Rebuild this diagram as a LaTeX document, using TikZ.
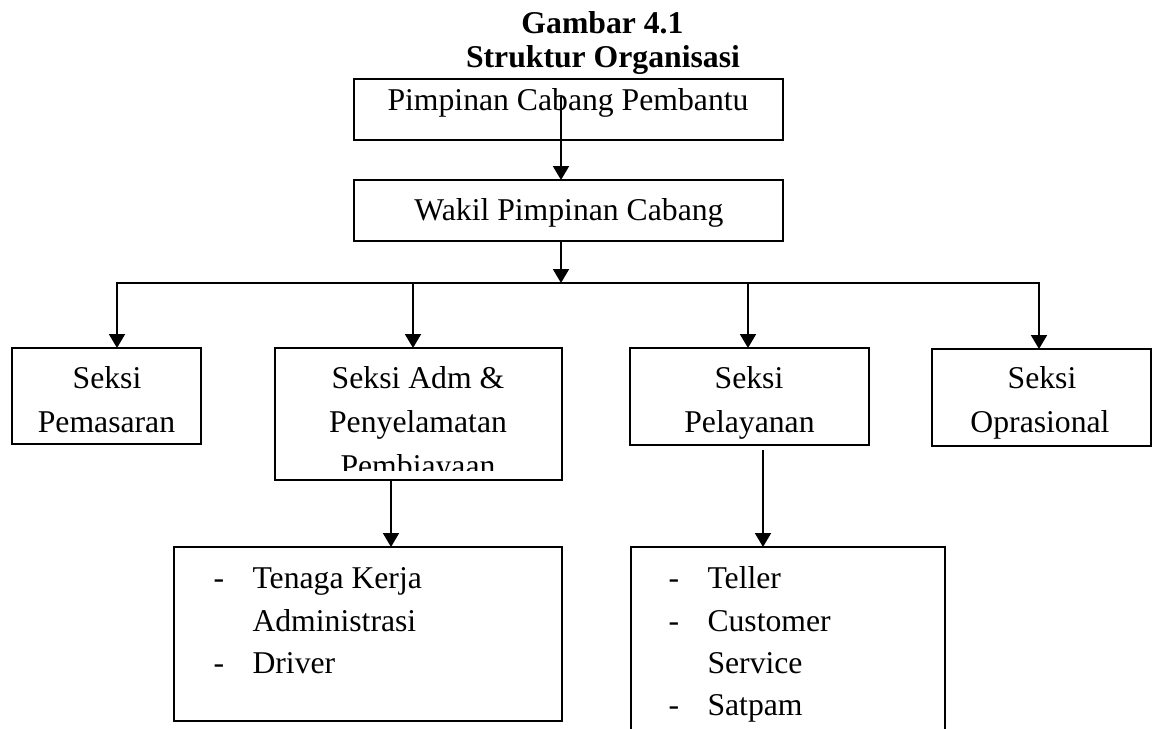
\documentclass[tikz,border=0pt]{standalone}
\usepackage{fontspec}
\setmainfont{Liberation Serif}
\usetikzlibrary{arrows.meta}
\begin{document}
\begin{tikzpicture}[x=0.5pt,y=-0.5pt,
  box/.style={draw,line width=1pt,inner sep=0pt,outer sep=0pt,anchor=north west},
  txt/.style={inner sep=0pt,outer sep=0pt,font=\fontsize{15.85pt}{21pt}\selectfont},
  ttl/.style={inner sep=0pt,outer sep=0pt,anchor=base,font=\fontsize{15.85pt}{21pt}\selectfont\bfseries},
  ctr/.style={txt,anchor=base},
  lft/.style={txt,anchor=base west},
  conn/.style={line width=1pt},
  arr/.style={conn,-{Triangle[width=8pt,length=7pt]}}]
\useasboundingbox (0,0) rectangle (1153,729);
\clip (0,0) rectangle (1153,729);

% title
\node[ttl] (t1) at (602.5,33) {Gambar 4.1};
\node[ttl] (t2) at (603,67) {Struktur Organisasi};

% boxes
\node[box,minimum width=214.5pt,minimum height=30.5pt] (b1) at (354,79) {};
\node[box,minimum width=214.5pt,minimum height=30.5pt] (b2) at (354,180) {};
\node[box,minimum width=94.5pt,minimum height=48pt] (pem) at (12,348) {};
\node[box,minimum width=143.5pt,minimum height=66pt] (adm) at (275,348) {};
\node[box,minimum width=119.5pt,minimum height=48.5pt] (pel) at (630,348) {};
\node[box,minimum width=109.5pt,minimum height=48.5pt] (opr) at (932,349) {};
\node[box,minimum width=194pt,minimum height=87pt] (la) at (174,547) {};
\node[box,minimum width=157pt,minimum height=100pt] (lb) at (631,547) {};

% box texts
\node[ctr] (b1t) at (568,110) {Pimpinan Cabang Pembantu};
\node[ctr] (b2t) at (569,220) {Wakil Pimpinan Cabang};
\node[ctr] (pem1) at (107,388) {Seksi};
\node[ctr] (pem2) at (106.5,432) {Pemasaran};
\node[ctr] (adm1) at (418,388) {Seksi Adm \&};
\node[ctr] (adm2) at (418,432) {Penyelamatan};
\begin{scope}
\clip (275,348) rectangle (562,470);
\node[ctr] (adm3) at (418,476) {Pembiayaan};
\end{scope}
\node[ctr] (pel1) at (749,388) {Seksi};
\node[ctr] (pel2) at (749.5,432) {Pelayanan};
\node[ctr] (opr1) at (1042,388) {Seksi};
\node[ctr] (opr2) at (1040,432) {Oprasional};

% lower lists
\node[lft] (la1d) at (213.5,588) {-};
\node[lft] (la1) at (252.5,588) {Tenaga Kerja};
\node[lft] (la2) at (252.5,631) {Administrasi};
\node[lft] (la3d) at (213.5,673) {-};
\node[lft] (la3) at (252.5,673) {Driver};

\node[lft] (lb1d) at (668.5,588) {-};
\node[lft] (lb1) at (707.5,588) {Teller};
\node[lft] (lb2d) at (668.5,631) {-};
\node[lft] (lb2) at (707.5,631) {Customer};
\node[lft] (lb3) at (707.5,673) {Service};
\node[lft] (lb4d) at (668.5,715) {-};
\node[lft] (lb4) at (707.5,715) {Satpam};

% connectors
\coordinate (s1) at (561,97);
\coordinate (busM) at (561,283);
\coordinate (j1) at (117,283);
\coordinate (j2) at (413,283);
\coordinate (j3) at (748,283);
\coordinate (j4) at (1039,283);
\coordinate (c1) at (391,0);
\coordinate (s2) at (763,450);

\draw[arr] (s1) -- (s1 |- b2.north);
\draw[arr] (b2.south -| busM) -- (busM);
\draw[conn,line cap=rect] (j1) -- (j4);
\draw[arr] (j1) -- (j1 |- pem.north);
\draw[arr] (j2) -- (j2 |- adm.north);
\draw[arr] (j3) -- (j3 |- pel.north);
\draw[arr] (j4) -- (j4 |- opr.north);
\draw[arr] (adm.south -| c1) -- (la.north -| c1);
\draw[arr] (s2) -- (s2 |- lb.north);
\end{tikzpicture}
\end{document}
